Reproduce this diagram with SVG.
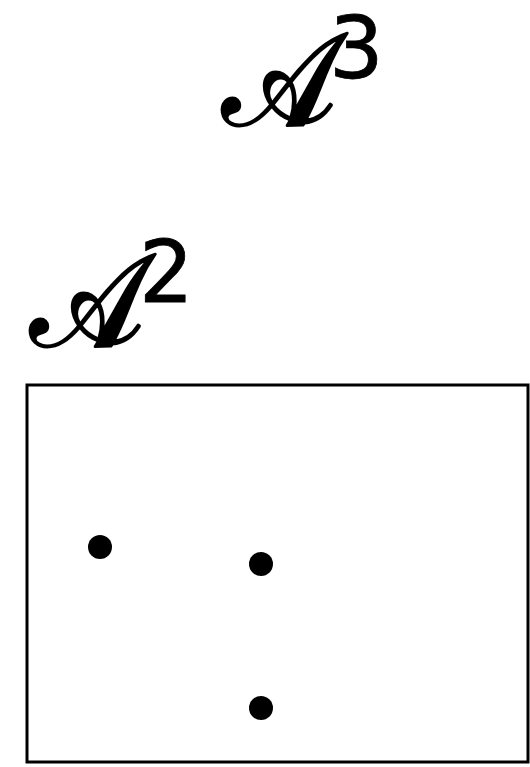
<svg xmlns="http://www.w3.org/2000/svg" width="530" height="767" viewBox="0 0 530 767">
<style>
.lbl{font-family:"DejaVu Serif","DejaVu Sans","Noto Sans",serif;fill:#000;stroke:#000;stroke-width:3;stroke-linejoin:round;font-size:130px}
.sup{font-family:"DejaVu Sans","Noto Sans",sans-serif;fill:#000;stroke:#000;stroke-width:0.8;font-size:86px}
.dot{fill:#000}
</style>
<rect width="530" height="767" fill="#fff"/>
<g id="label-A3">
<text class="lbl" transform="translate(222,125) scale(0.93,1)" x="0" y="0">𝒜</text>
<text class="sup" x="329" y="78">3</text>
</g>
<g id="label-A2">
<text class="lbl" transform="translate(30,346) scale(0.93,1)" x="0" y="0">𝒜</text>
<text class="sup" x="139" y="302">2</text>
</g>
<g id="box">
<rect x="27" y="385" width="501" height="377" fill="none" stroke="#000" stroke-width="3"/>
</g>
<g id="points">
<circle class="dot" cx="100" cy="547" r="12"/>
<circle class="dot" cx="261" cy="564" r="12"/>
<circle class="dot" cx="261" cy="708" r="12"/>
</g>
<g id="connectors"></g>
</svg>
